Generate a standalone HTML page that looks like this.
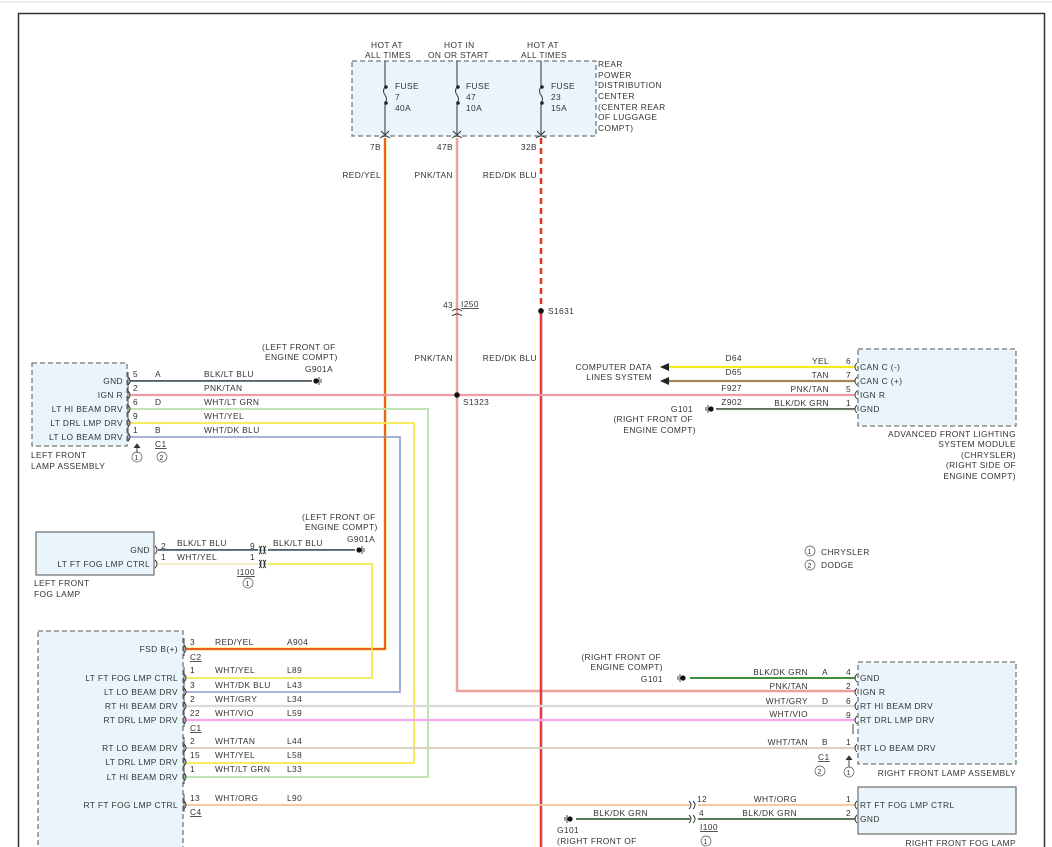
<!DOCTYPE html>
<html><head><meta charset="utf-8"><style>
html,body{margin:0;padding:0;background:#fff;}
svg{display:block;}
text{font-family:"Liberation Sans",sans-serif;font-size:8.4px;fill:#333;letter-spacing:0.4px;}
.r{text-anchor:end;}
.box{fill:#e9f5fb;stroke:#777;stroke-width:1.3;stroke-dasharray:5,3;}
.sbox{fill:#e9f5fb;stroke:#777;stroke-width:1.3;}
.c{fill:none;stroke:#333;stroke-width:0.9;}
</style></head><body>
<svg width="1052" height="847" viewBox="0 0 1052 847" xmlns="http://www.w3.org/2000/svg">
<line x1="0" y1="2" x2="1052" y2="2" stroke="#ddd" stroke-width="1"/>
<path d="M18.5,847 V13.5 H1044.5 V847" fill="none" stroke="#333" stroke-width="1.5"/>

<!-- boxes -->
<rect class="box" x="352" y="61" width="244" height="75"/>
<rect class="box" x="32" y="363" width="95" height="83"/>
<rect class="sbox" x="36" y="532" width="118" height="43"/>
<rect class="box" x="38" y="631" width="145" height="230"/>
<rect class="box" x="858" y="349" width="158" height="77"/>
<rect class="box" x="858" y="662" width="158" height="102"/>
<rect class="sbox" x="858" y="787" width="158" height="47"/>

<!-- fuse box content -->
<g stroke="#333" stroke-width="1" fill="none">
<line x1="385" y1="61" x2="385" y2="87"/><path d="M385,87 q-3,4 0,8 q3,4 0,8"/><line x1="385" y1="103" x2="385" y2="134"/>
<line x1="457" y1="61" x2="457" y2="87"/><path d="M457,87 q-3,4 0,8 q3,4 0,8"/><line x1="457" y1="103" x2="457" y2="134"/>
<line x1="541" y1="61" x2="541" y2="87"/><path d="M541,87 q-3,4 0,8 q3,4 0,8"/><line x1="541" y1="103" x2="541" y2="134"/>
<path d="M381,131 l4,4 l4,-4 M453,131 l4,4 l4,-4 M537,131 l4,4 l4,-4"/>
<path d="M380,138 q5,-4 10,0 M452,138 q5,-4 10,0 M536,138 q5,-4 10,0"/>
</g>
<g fill="#222"><circle cx="386" cy="87" r="1.8"/><circle cx="386" cy="103" r="1.8"/><circle cx="458" cy="87" r="1.8"/><circle cx="458" cy="103" r="1.8"/><circle cx="542" cy="87" r="1.8"/><circle cx="542" cy="103" r="1.8"/></g>
<text x="371" y="48">HOT AT</text><text x="365" y="58">ALL TIMES</text>
<text x="444" y="48">HOT IN</text><text x="428" y="58">ON OR START</text>
<text x="527" y="48">HOT AT</text><text x="521" y="58">ALL TIMES</text>
<text x="395" y="89">FUSE</text><text x="395" y="100">7</text><text x="395" y="111">40A</text>
<text x="466" y="89">FUSE</text><text x="466" y="100">47</text><text x="466" y="111">10A</text>
<text x="551" y="89">FUSE</text><text x="551" y="100">23</text><text x="551" y="111">15A</text>
<text x="598" y="67">REAR</text><text x="598" y="78">POWER</text><text x="598" y="88">DISTRIBUTION</text><text x="598" y="99">CENTER</text><text x="598" y="110">(CENTER REAR</text><text x="598" y="120">OF LUGGAGE</text><text x="598" y="131">COMPT)</text>
<text class="r" x="381" y="150">7B</text><text class="r" x="453" y="150">47B</text><text class="r" x="537" y="150">32B</text>
<text class="r" x="381" y="178">RED/YEL</text><text class="r" x="453" y="178">PNK/TAN</text><text class="r" x="537" y="178">RED/DK BLU</text>

<!-- WIRES -->
<!-- RED/YEL -->
<path d="M385,138 V649 H186" fill="none" stroke="#f6e24a" stroke-width="3"/>
<path d="M385,138 V649 H186" fill="none" stroke="#e8321e" stroke-width="1.5"/>
<!-- PNK/TAN vertical -->
<path d="M457,138 V691 H855" fill="none" stroke="#f29aa3" stroke-width="2.5"/>
<path d="M457,138 V691 H855" fill="none" stroke="#d9b48a" stroke-width="0.6"/>
<!-- RED/DK BLU -->
<line x1="541" y1="138" x2="541" y2="311" stroke="#e8321e" stroke-width="2.5" stroke-dasharray="6,4"/>
<line x1="541" y1="311" x2="541" y2="847" stroke="#e8321e" stroke-width="2.5"/>
<line x1="542" y1="311" x2="542" y2="847" stroke="#8b8fd6" stroke-width="0.7"/>
<!-- IGN R horizontal -->
<line x1="130" y1="395" x2="855" y2="395" stroke="#f29aa3" stroke-width="2.2"/>
<!-- left lamp wires -->
<line x1="130" y1="381" x2="312" y2="381" stroke="#444" stroke-width="1.8"/>
<line x1="130" y1="381.5" x2="312" y2="381.5" stroke="#6aa8c8" stroke-width="0.5"/>
<path d="M130,409 H428 V777 H186" fill="none" stroke="#b9e2a9" stroke-width="1.8"/>
<path d="M130,423 H414 V763 H186" fill="none" stroke="#f3ea4d" stroke-width="1.8"/>
<path d="M130,437 H400 V692 H186" fill="none" stroke="#8c9ac8" stroke-width="1.6"/>
<!-- fog lamp -->
<line x1="158" y1="550" x2="258" y2="550" stroke="#444" stroke-width="1.8"/>
<line x1="268" y1="550" x2="355" y2="550" stroke="#444" stroke-width="1.8"/>
<line x1="158" y1="550.5" x2="355" y2="550.5" stroke="#6aa8c8" stroke-width="0.5"/>
<line x1="158" y1="564" x2="258" y2="564" stroke="#eee8b0" stroke-width="1.6"/>
<path d="M268,564 H372 V678 H186" fill="none" stroke="#f3ea4d" stroke-width="1.8"/>
<!-- across wires -->
<line x1="186" y1="706" x2="855" y2="706" stroke="#dadada" stroke-width="2.2"/>
<line x1="186" y1="720" x2="855" y2="720" stroke="#f1a8ef" stroke-width="2.2"/>
<line x1="186" y1="748" x2="855" y2="748" stroke="#ddd2c4" stroke-width="2.2"/>
<line x1="186" y1="805" x2="690" y2="805" stroke="#f5c9a2" stroke-width="2"/>
<line x1="698" y1="805" x2="855" y2="805" stroke="#f5c9a2" stroke-width="2"/>
<line x1="576" y1="819" x2="690" y2="819" stroke="#5c7a5c" stroke-width="2"/>
<line x1="698" y1="819" x2="855" y2="819" stroke="#5c7a5c" stroke-width="2"/>
<line x1="690" y1="678" x2="855" y2="678" stroke="#3f8f3f" stroke-width="2"/>
<!-- AFLS wires -->
<line x1="668" y1="367" x2="855" y2="367" stroke="#f3ea20" stroke-width="2.2"/>
<line x1="668" y1="381" x2="855" y2="381" stroke="#a28555" stroke-width="2.2"/>
<line x1="716" y1="409" x2="855" y2="409" stroke="#666" stroke-width="2"/>
<line x1="716" y1="410" x2="855" y2="410" stroke="#aee3a4" stroke-width="0.6"/>
<path d="M660,367 l9,-4 v8 z M660,381 l9,-4 v8 z" fill="#222"/>

<!-- splices -->
<circle cx="457" cy="395" r="2.8" fill="#111"/>
<circle cx="541" cy="311" r="2.8" fill="#111"/>
<path d="M452,311 q5,-4 10,0 M452,316 q5,-4 10,0" class="c"/>
<text x="443" y="308">43</text><text x="461" y="307" text-decoration="underline">I250</text>
<text x="548" y="314">S1631</text><text x="463" y="405">S1323</text>
<text class="r" x="453" y="361">PNK/TAN</text><text class="r" x="537" y="361">RED/DK BLU</text>

<!-- grounds -->
<g fill="#111">
<circle cx="316" cy="381" r="2.6"/><circle cx="359" cy="550" r="2.6"/>
<circle cx="711" cy="409" r="2.6"/><circle cx="683" cy="678" r="2.6"/><circle cx="570" cy="819" r="2.6"/>
</g>
<g stroke="#333" stroke-width="0.9">
<path d="M319,377 v8 M321,379 v4 M362,546 v8 M364,548 v4 M708,405 v8 M706,407 v4 M680,674 v8 M678,676 v4 M567,815 v8 M565,817 v4"/>
</g>
<text x="262" y="350">(LEFT FRONT OF</text><text x="265" y="360">ENGINE COMPT)</text><text x="305" y="372">G901A</text>
<text x="302" y="520">(LEFT FRONT OF</text><text x="305" y="530">ENGINE COMPT)</text><text x="347" y="542">G901A</text>
<text class="r" x="693" y="412">G101</text><text class="r" x="693" y="422">(RIGHT FRONT OF</text><text class="r" x="696" y="433">ENGINE COMPT)</text>
<text class="r" x="661" y="660">(RIGHT FRONT OF</text><text class="r" x="663" y="670">ENGINE COMPT)</text><text class="r" x="663" y="682">G101</text>
<text x="557" y="833">G101</text><text x="557" y="844">(RIGHT FRONT OF</text>

<!-- left lamp -->
<g class="c"><path d="M128,377 q4,4 0,8 M128,391 q4,4 0,8 M128,405 q4,4 0,8 M128,419 q4,4 0,8 M128,433 q4,4 0,8"/><line x1="128" y1="372" x2="128" y2="442"/></g>
<text class="r" x="123" y="384">GND</text><text class="r" x="123" y="398">IGN R</text><text class="r" x="123" y="412">LT HI BEAM DRV</text><text class="r" x="123" y="426">LT DRL LMP DRV</text><text class="r" x="123" y="440">LT LO BEAM DRV</text>
<text x="133" y="377">5</text><text x="133" y="391">2</text><text x="133" y="405">6</text><text x="133" y="419">9</text><text x="133" y="433">1</text>
<text x="155" y="377">A</text><text x="155" y="405">D</text><text x="155" y="433">B</text>
<text x="204" y="377">BLK/LT BLU</text><text x="204" y="391">PNK/TAN</text><text x="204" y="405">WHT/LT GRN</text><text x="204" y="419">WHT/YEL</text><text x="204" y="433">WHT/DK BLU</text>
<path d="M137,453 v-8 M134,448 l3,-4 l3,4" stroke="#333" fill="#333" stroke-width="0.9"/>
<text x="155" y="447" text-decoration="underline">C1</text>
<circle cx="137" cy="457" r="5" fill="none" stroke="#555" stroke-width="0.7"/><text x="134.5" y="460" style="font-size:7px">1</text>
<circle cx="162" cy="457" r="5" fill="none" stroke="#555" stroke-width="0.7"/><text x="159.5" y="460" style="font-size:7px">2</text>
<text x="31" y="458">LEFT FRONT</text><text x="31" y="469">LAMP ASSEMBLY</text>

<!-- left fog -->
<g class="c"><path d="M155,546 q4,4 0,8 M155,560 q4,4 0,8 M259,546 q4,4 0,8 M263,546 q4,4 0,8 M259,560 q4,4 0,8 M263,560 q4,4 0,8"/></g>
<g class="c"><path d="M262,546 q-4,4 0,8 M266,546 q-4,4 0,8 M262,560 q-4,4 0,8 M266,560 q-4,4 0,8"/></g>
<text class="r" x="150" y="553">GND</text><text class="r" x="150" y="567">LT FT FOG LMP CTRL</text>
<text x="161" y="549">2</text><text x="161" y="560">1</text>
<text x="177" y="546">BLK/LT BLU</text><text x="177" y="560">WHT/YEL</text>
<text x="250" y="549">9</text><text x="250" y="560">1</text>
<text x="273" y="546">BLK/LT BLU</text>
<text x="237" y="575" text-decoration="underline">I100</text>
<circle cx="248" cy="583" r="5" fill="none" stroke="#555" stroke-width="0.7"/><text x="245.5" y="586" style="font-size:7px">1</text>
<text x="34" y="586">LEFT FRONT</text><text x="34" y="597">FOG LAMP</text>

<!-- big left module -->
<g class="c"><path d="M184,645 q4,4 0,8 M184,674 q4,4 0,8 M184,688 q4,4 0,8 M184,702 q4,4 0,8 M184,716 q4,4 0,8 M184,744 q4,4 0,8 M184,758 q4,4 0,8 M184,773 q4,4 0,8 M184,801 q4,4 0,8"/>
<path d="M184,638 v18 M184,667 v60 M184,737 v47 M184,794 v18"/></g>
<text class="r" x="178" y="652">FSD B(+)</text><text class="r" x="178" y="681">LT FT FOG LMP CTRL</text><text class="r" x="178" y="695">LT LO BEAM DRV</text><text class="r" x="178" y="709">RT HI BEAM DRV</text><text class="r" x="178" y="723">RT DRL LMP DRV</text><text class="r" x="178" y="751">RT LO BEAM DRV</text><text class="r" x="178" y="765">LT DRL LMP DRV</text><text class="r" x="178" y="780">LT HI BEAM DRV</text><text class="r" x="178" y="808">RT FT FOG LMP CTRL</text>
<text x="190" y="645">3</text><text x="215" y="645">RED/YEL</text><text x="287" y="645">A904</text>
<text x="190" y="660" text-decoration="underline">C2</text>
<text x="190" y="673">1</text><text x="215" y="673">WHT/YEL</text><text x="287" y="673">L89</text>
<text x="190" y="688">3</text><text x="215" y="688">WHT/DK BLU</text><text x="287" y="688">L43</text>
<text x="190" y="702">2</text><text x="215" y="702">WHT/GRY</text><text x="287" y="702">L34</text>
<text x="190" y="716">22</text><text x="215" y="716">WHT/VIO</text><text x="287" y="716">L59</text>
<text x="190" y="731" text-decoration="underline">C1</text>
<text x="190" y="744">2</text><text x="215" y="744">WHT/TAN</text><text x="287" y="744">L44</text>
<text x="190" y="758">15</text><text x="215" y="758">WHT/YEL</text><text x="287" y="758">L58</text>
<text x="190" y="772">1</text><text x="215" y="772">WHT/LT GRN</text><text x="287" y="772">L33</text>
<text x="190" y="801">13</text><text x="215" y="801">WHT/ORG</text><text x="287" y="801">L90</text>
<text x="190" y="815" text-decoration="underline">C4</text>

<!-- AFLS -->
<g class="c"><path d="M857,363 q-4,4 0,8 M857,377 q-4,4 0,8 M857,391 q-4,4 0,8 M857,405 q-4,4 0,8"/></g>
<text x="860" y="370">CAN C (-)</text><text x="860" y="384">CAN C (+)</text><text x="860" y="398">IGN R</text><text x="860" y="412">GND</text>
<text x="846" y="364">6</text><text x="846" y="378">7</text><text x="846" y="392">5</text><text x="846" y="406">1</text>
<text class="r" x="829" y="364">YEL</text><text class="r" x="829" y="378">TAN</text><text class="r" x="829" y="392">PNK/TAN</text><text class="r" x="829" y="406">BLK/DK GRN</text>
<text class="r" x="742" y="361">D64</text><text class="r" x="742" y="375">D65</text><text class="r" x="742" y="391">F927</text><text class="r" x="742" y="405">Z902</text>
<text class="r" x="652" y="370">COMPUTER DATA</text><text class="r" x="652" y="380">LINES SYSTEM</text>
<text class="r" x="1016" y="437">ADVANCED FRONT LIGHTING</text><text class="r" x="1016" y="447">SYSTEM MODULE</text><text class="r" x="1016" y="458">(CHRYSLER)</text><text class="r" x="1016" y="468">(RIGHT SIDE OF</text><text class="r" x="1016" y="479">ENGINE COMPT)</text>

<!-- legend -->
<circle cx="810" cy="551" r="5" fill="none" stroke="#555" stroke-width="0.7"/><text x="807.5" y="554" style="font-size:7px">1</text><text x="821" y="555">CHRYSLER</text>
<circle cx="810" cy="565" r="5" fill="none" stroke="#555" stroke-width="0.7"/><text x="807.5" y="568" style="font-size:7px">2</text><text x="821" y="568">DODGE</text>

<!-- right lamp -->
<g class="c"><path d="M857,674 q-4,4 0,8 M857,688 q-4,4 0,8 M857,702 q-4,4 0,8 M857,716 q-4,4 0,8 M857,744 q-4,4 0,8"/><path d="M853,724 v10"/></g>
<text x="860" y="681">GND</text><text x="860" y="695">IGN R</text><text x="860" y="709">RT HI BEAM DRV</text><text x="860" y="723">RT DRL LMP DRV</text><text x="860" y="751">RT LO BEAM DRV</text>
<text x="846" y="675">4</text><text x="846" y="689">2</text><text x="846" y="704">6</text><text x="846" y="718">9</text><text x="846" y="745">1</text>
<text x="822" y="675">A</text><text x="822" y="704">D</text><text x="822" y="745">B</text>
<text class="r" x="808" y="675">BLK/DK GRN</text><text class="r" x="808" y="689">PNK/TAN</text><text class="r" x="808" y="704">WHT/GRY</text><text class="r" x="808" y="717">WHT/VIO</text><text class="r" x="808" y="745">WHT/TAN</text>
<text x="818" y="760" text-decoration="underline">C1</text>
<path d="M849,767 v-8 M846,760 l3,-4 l3,4" stroke="#333" fill="#333" stroke-width="0.9"/>
<circle cx="820" cy="771" r="5" fill="none" stroke="#555" stroke-width="0.7"/><text x="817.5" y="774" style="font-size:7px">2</text>
<circle cx="849" cy="772" r="5" fill="none" stroke="#555" stroke-width="0.7"/><text x="846.5" y="775" style="font-size:7px">1</text>
<text class="r" x="1016" y="776">RIGHT FRONT LAMP ASSEMBLY</text>

<!-- right fog -->
<g class="c"><path d="M857,801 q-4,4 0,8 M857,815 q-4,4 0,8 M689,801 q4,4 0,8 M693,801 q4,4 0,8 M689,815 q4,4 0,8 M693,815 q4,4 0,8"/></g>
<text x="860" y="808">RT FT FOG LMP CTRL</text><text x="860" y="822">GND</text>
<text x="846" y="802">1</text><text x="846" y="816">2</text>
<text class="r" x="797" y="802">WHT/ORG</text><text class="r" x="797" y="816">BLK/DK GRN</text>
<text class="r" x="648" y="816">BLK/DK GRN</text>
<text x="697" y="802">12</text><text x="699" y="816">4</text>
<text x="700" y="830" text-decoration="underline">I100</text>
<circle cx="706" cy="841" r="5" fill="none" stroke="#555" stroke-width="0.7"/><text x="703.5" y="844" style="font-size:7px">1</text>
<text class="r" x="1016" y="846">RIGHT FRONT FOG LAMP</text>
</svg>
</body></html>
